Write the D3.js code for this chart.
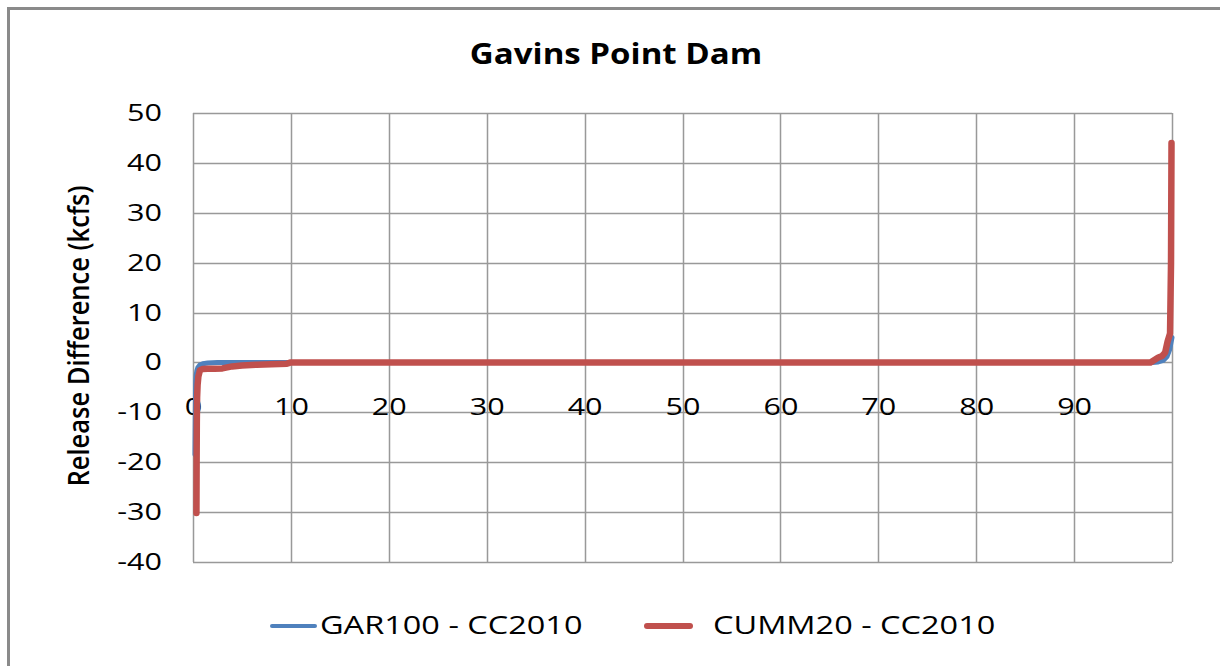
<!DOCTYPE html>
<html>
<head>
<meta charset="utf-8">
<script src="https://cdn.jsdelivr.net/npm/d3@7"></script>
<style>
  html, body { margin: 0; padding: 0; background: #fff; }
  svg { display: block; }
  text { font-family: "Open Sans", "Liberation Sans", sans-serif; fill: #000; }
</style>
</head>
<body>
<svg id="chart" width="1220" height="666"></svg>
<script>
// Percent of time exceeded (x) and release difference in kcfs (y)
const garExceed = [0.2, 0.22, 0.25, 0.28, 0.32, 0.4, 0.5, 0.7, 1.0, 1.5, 2.5, 10, 30, 50, 70, 90, 98.0, 98.6, 99.1, 99.5, 99.75, 99.9, 100];
const garDiff   = [-18.5, -14, -8, -4, -2.6, -1.6, -1.0, -0.5, -0.25, -0.1, 0, 0, 0, 0, 0, 0, 0, 0.1, 0.4, 1.2, 2.5, 4.0, 5.0];

const cummExceed = [0.35, 0.37, 0.39, 0.42, 0.47, 0.55, 0.7, 1.0, 1.5, 2.2, 3.0, 3.5, 4.0, 5.0, 6.5, 8.0, 9.6, 10, 30, 50, 70, 90, 97.8, 98.2, 98.6, 99.0, 99.3, 99.55, 99.8, 99.9, 99.95];
const cummDiff   = [-30.2, -20, -12, -7, -4.5, -2.8, -1.6, -1.3, -1.25, -1.25, -1.2, -1.0, -0.8, -0.6, -0.45, -0.35, -0.25, 0, 0, 0, 0, 0, 0, 0.5, 1.0, 1.3, 2.0, 4.2, 5.8, 20, 44];

const seriesNames = ["GAR100 - CC2010", "CUMM20 - CC2010"];
const seriesColors = ["#4F81BD", "#C0504D"];

const xTicks = [0, 10, 20, 30, 40, 50, 60, 70, 80, 90];
const xGrid = [0, 10, 20, 30, 40, 50, 60, 70, 80, 90, 100];
const yTicks = [50, 40, 30, 20, 10, 0, -10, -20, -30, -40];

const chartTitle = "Gavins Point Dam";
const yTitle = "Release Difference (kcfs)";

// text in this chart is drawn with a wide horizontal stretch
const stretch = 1.3;

const svg = d3.select("#chart");

// outer chart frame
svg.append("path")
  .attr("d", "M8.5,666 V8.5 H1220")
  .attr("fill", "none")
  .attr("stroke", "#8a8a8a")
  .attr("stroke-width", 3);

const plot = { left: 193, right: 1172, top: 113, bottom: 562 };

const x = d3.scaleLinear().domain([0, 100]).range([plot.left, plot.right]);
const y = d3.scaleLinear().domain([-40, 50]).range([plot.bottom, plot.top]);

// gridlines
const grid = svg.append("g").attr("stroke", "#999").attr("stroke-width", 1.5);
grid.selectAll("line.h").data(yTicks).join("line")
  .attr("x1", plot.left).attr("x2", plot.right)
  .attr("y1", d => Math.round(y(d)) + 0.5).attr("y2", d => Math.round(y(d)) + 0.5);
grid.selectAll("line.v").data(xGrid).join("line")
  .attr("y1", plot.top).attr("y2", plot.bottom)
  .attr("x1", d => Math.round(x(d)) + 0.5).attr("x2", d => Math.round(x(d)) + 0.5);

const plainNum = d => String(d);

// y axis tick labels
const yAxis = d3.axisLeft(y).tickValues(yTicks).tickFormat(plainNum).tickSize(0);
const gy = svg.append("g").attr("transform", `translate(${plot.left},0)`).call(yAxis);
gy.select(".domain").remove();
gy.selectAll("text")
  .attr("x", 0)
  .attr("transform", `translate(-31,0) scale(${stretch},1)`)
  .style("font-size", "23.5px").style("font-family", "'Open Sans', sans-serif").attr("fill", "#000");

// x axis tick labels, drawn at the -10 row
const xAxis = d3.axisBottom(x).tickValues(xTicks).tickFormat(plainNum).tickSize(0).tickPadding(0);
const gx = svg.append("g").attr("transform", `translate(0,${y(-10) - 14})`).call(xAxis);
gx.select(".domain").remove();
gx.selectAll("text")
  .attr("transform", `scale(${stretch},1)`)
  .style("font-size", "23.5px").style("font-family", "'Open Sans', sans-serif").attr("fill", "#000");

// series lines
const line = d3.line().x(d => x(d[0])).y(d => y(d[1]));
const garData = garExceed.map((v, i) => [v, garDiff[i]]);
const cummData = cummExceed.map((v, i) => [v, cummDiff[i]]);

svg.append("path").datum(garData)
  .attr("d", line).attr("fill", "none")
  .attr("stroke", seriesColors[0]).attr("stroke-width", 5)
  .attr("stroke-linejoin", "round").attr("stroke-linecap", "round");
svg.append("path").datum(cummData)
  .attr("d", line).attr("fill", "none")
  .attr("stroke", seriesColors[1]).attr("stroke-width", 6.5)
  .attr("stroke-linejoin", "round").attr("stroke-linecap", "round");

// title
svg.append("text")
  .attr("transform", `translate(616,64) scale(1.14,1)`)
  .attr("text-anchor", "middle")
  .style("font-size", "29px").style("font-weight", "bold")
  .text(chartTitle);

// y axis title
svg.append("text")
  .attr("transform", `translate(89,336) rotate(-90) scale(1,1.15)`)
  .attr("text-anchor", "middle")
  .style("font-size", "25.5px").style("font-weight", "600")
  .text(yTitle);

// legend
const legend = [
  { name: seriesNames[0], color: seriesColors[0], lx: 272, tx: 320, w: 4 },
  { name: seriesNames[1], color: seriesColors[1], lx: 647, tx: 713, w: 6 }
];
const lg = svg.append("g");
legend.forEach(d => {
  lg.append("line")
    .attr("x1", d.lx).attr("x2", d.lx + 43)
    .attr("y1", 626).attr("y2", 626)
    .attr("stroke", d.color).attr("stroke-width", d.w).attr("stroke-linecap", "round");
  lg.append("text")
    .attr("transform", `translate(${d.tx},634) scale(${stretch},1)`)
    .style("font-size", "25px")
    .text(d.name);
});
</script>
</body>
</html>
